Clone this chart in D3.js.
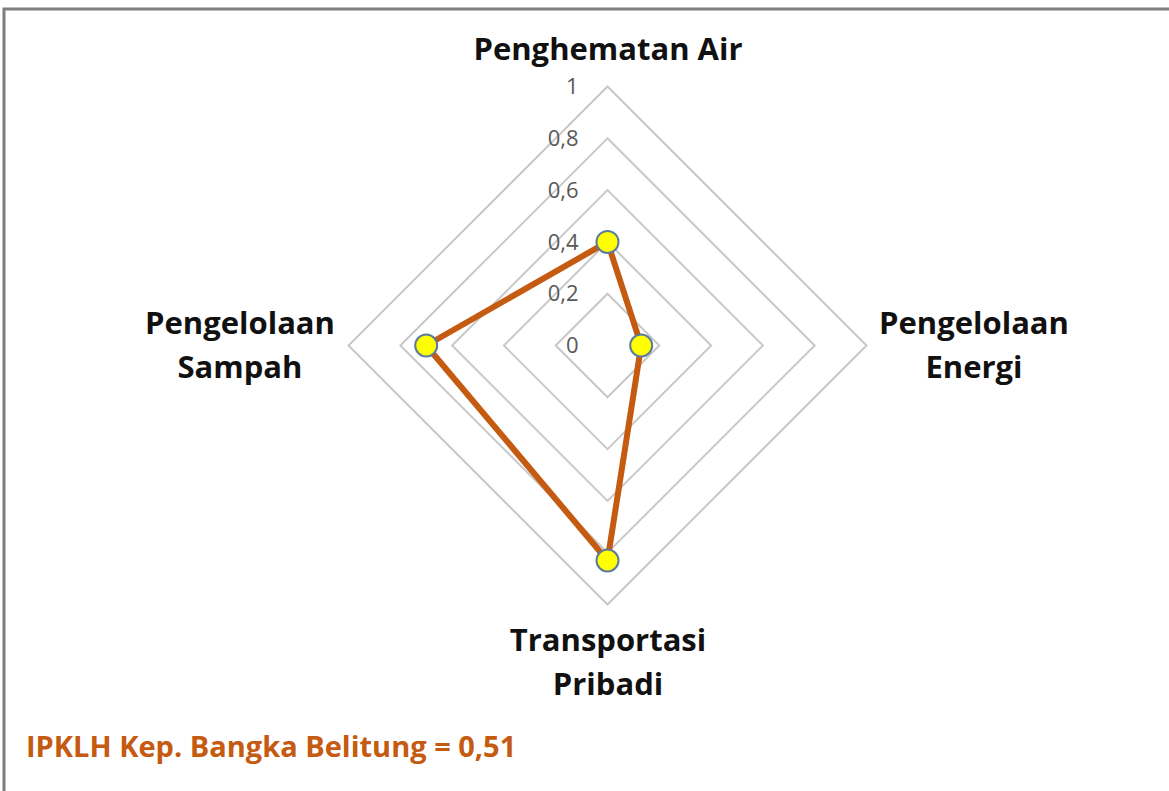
<!DOCTYPE html>
<html>
<head>
<meta charset="utf-8">
<script src="https://cdn.jsdelivr.net/npm/d3@7"></script>
<style>
  body { margin: 0; background: #fff; }
  svg { display: block; }
</style>
</head>
<body>
<div id="chart"></div>
<script>
// data
const categories = ['Penghematan Air', 'Pengelolaan Energi', 'Transportasi Pribadi', 'Pengelolaan Sampah'];
const values = [0.40, 0.13, 0.83, 0.70];
const ticks = [0, 0.2, 0.4, 0.6, 0.8, 1];
const tickLabels = ['0', '0,2', '0,4', '0,6', '0,8', '1'];
const footerText = 'IPKLH Kep. Bangka Belitung = 0,51';

const width = 1169;
const height = 791;
const cx = 607.5;
const cy = 345.5;
const radius = 259;
const accent = '#C55A11';

const svg = d3.select('#chart')
  .append('svg')
  .attr('width', width)
  .attr('height', height);

// frame
svg.append('rect')
  .attr('x', 4)
  .attr('y', 9)
  .attr('width', width + 10)
  .attr('height', height + 10)
  .attr('fill', 'none')
  .attr('stroke', '#7f7f7f')
  .attr('stroke-width', 3);

const g = svg.append('g')
  .attr('transform', `translate(${cx}, ${cy})`);

const r = d3.scaleLinear().domain([0, 1]).range([0, radius]);
const angle = d3.scalePoint()
  .domain(categories)
  .range([0, 2 * Math.PI * (categories.length - 1) / categories.length]);

const radial = d3.lineRadial()
  .angle(d => angle(d.cat))
  .radius(d => r(d.v))
  .curve(d3.curveLinearClosed);

// grid diamonds
g.selectAll('path.grid')
  .data(ticks)
  .join('path')
  .attr('class', 'grid')
  .attr('d', t => radial(categories.map(c => ({ cat: c, v: t }))))
  .attr('fill', 'none')
  .attr('stroke', '#c8c8c8')
  .attr('stroke-width', 2);

// tick labels
g.selectAll('text.tick')
  .data(ticks)
  .join('text')
  .attr('class', 'tick')
  .attr('x', -29)
  .attr('y', t => -r(t))
  .attr('dy', '0.35em')
  .attr('text-anchor', 'end')
  .attr('font-family', 'Open Sans, sans-serif')
  .attr('font-size', 22)
  .attr('fill', '#595959')
  .text((t, i) => tickLabels[i]);

// data polygon
const pts = categories.map((c, i) => ({ cat: c, v: values[i] }));
g.append('path')
  .attr('d', radial(pts))
  .attr('fill', 'none')
  .attr('stroke', accent)
  .attr('stroke-width', 6)
  .attr('stroke-linejoin', 'round');

g.selectAll('circle.pt')
  .data(pts)
  .join('circle')
  .attr('class', 'pt')
  .attr('cx', d => r(d.v) * Math.sin(angle(d.cat)))
  .attr('cy', d => -r(d.v) * Math.cos(angle(d.cat)))
  .attr('r', 11)
  .attr('fill', '#ffff00')
  .attr('stroke', '#5b7b9a')
  .attr('stroke-width', 2);

// category label anchors
const labelPos = [
  { x: 608, y: 60 },
  { x: 974, y: 334 },
  { x: 608, y: 651 },
  { x: 240, y: 334 }
];
const catLines = categories.map(c => (c === 'Penghematan Air' ? [c] : c.split(' ')));

svg.selectAll('text.cat')
  .data(categories)
  .join('text')
  .attr('class', 'cat')
  .attr('text-anchor', 'middle')
  .attr('font-family', 'Open Sans, sans-serif')
  .attr('font-weight', 'bold')
  .attr('font-size', 31)
  .attr('fill', '#111')
  .each(function (c, i) {
    const t = d3.select(this);
    catLines[i].forEach((line, j) => {
      t.append('tspan')
        .attr('x', labelPos[i].x)
        .attr('y', labelPos[i].y + j * 44)
        .text(line);
    });
  });

// footer
svg.append('text')
  .attr('x', 26)
  .attr('y', 757)
  .attr('font-family', 'Open Sans, sans-serif')
  .attr('font-weight', 'bold')
  .attr('font-size', 29)
  .attr('fill', accent)
  .text(footerText);
</script>
</body>
</html>
